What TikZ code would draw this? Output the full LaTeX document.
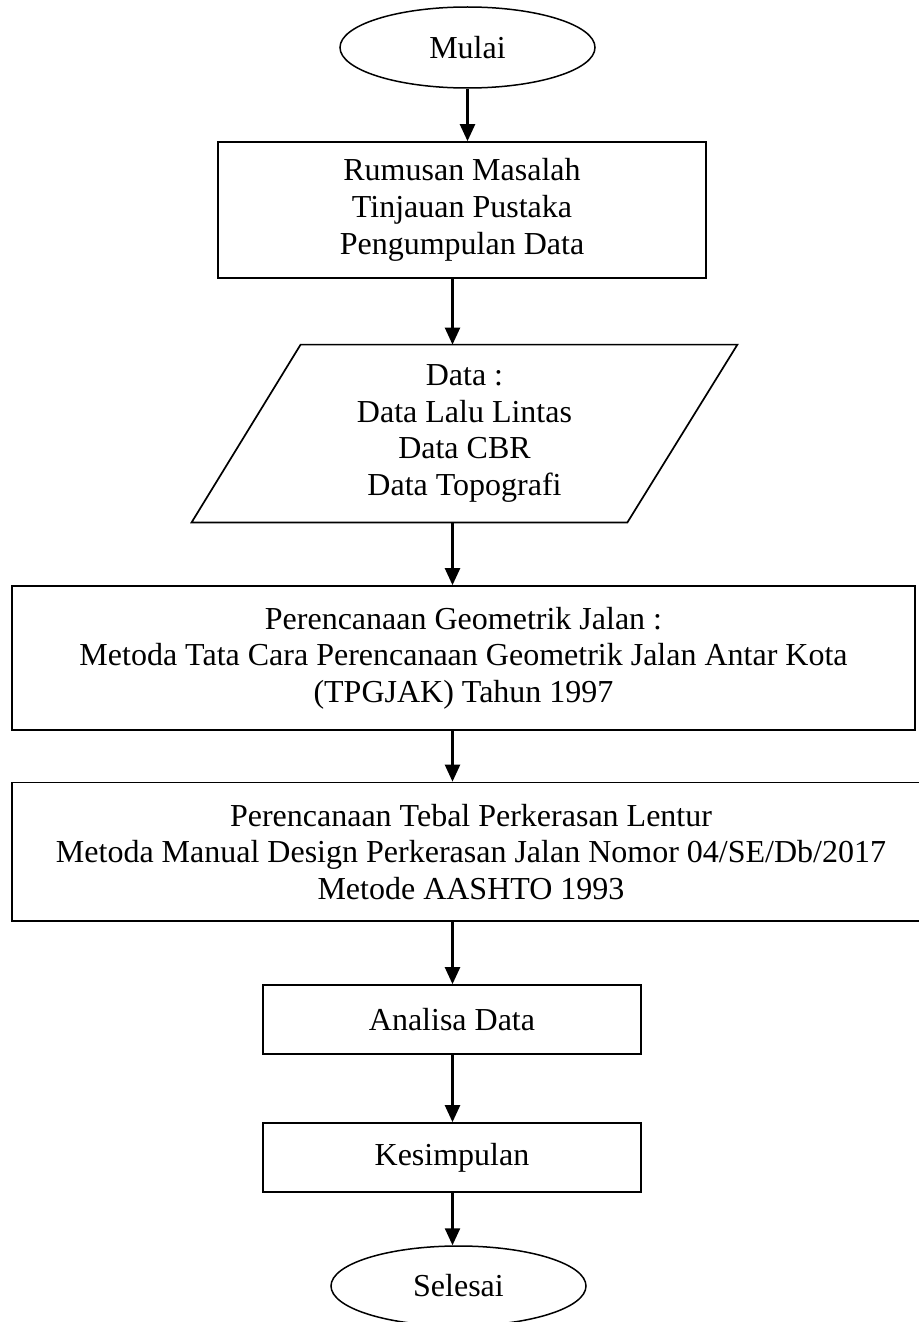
\documentclass[tikz,border=0pt]{standalone}
\usepackage{fontspec}
\setmainfont{Liberation Serif}
\usetikzlibrary{shapes.geometric,arrows.meta,calc}
\begin{document}
\begin{tikzpicture}[x=0.5pt,y=-0.5pt,
  every node/.style={font=\fontsize{16}{18.35}\selectfont, inner sep=0pt, align=center},
  terminal/.style={ellipse, draw, line width=0.75pt, minimum width=127.5pt, minimum height=40.5pt},
  procbox/.style={rectangle, draw, line width=0.85pt},
  arr/.style={line width=1.2pt, -{Triangle[width=7.5pt,length=8.5pt]}}]
\useasboundingbox (0,0) rectangle (919,1322);
\coordinate (axis) at (452.5,0);
\node[terminal] (mulai) at (467.5,47.5) {Mulai};
\node[procbox, minimum width=244pt, minimum height=68pt] (box1) at (462,210)
  {Rumusan Masalah\\Tinjauan Pustaka\\Pengumpulan Data};
\node[minimum width=272.5pt, minimum height=88.5pt] (data) at (464.5,433.5)
  {Data :\\Data Lalu Lintas\\Data CBR\\Data Topografi};
\draw[line width=0.85pt] ($(data.north west)+(109,0)$) -- (data.north east)
  -- ($(data.south east)+(-110,0)$) -- (data.south west) -- cycle;
\node[procbox, minimum width=451.5pt, minimum height=72pt] (box3) at (463.5,658)
  {Perencanaan Geometrik Jalan :\\Metoda Tata Cara Perencanaan Geometrik Jalan Antar Kota\\(TPGJAK) Tahun 1997};
\node[procbox, minimum width=459pt, minimum height=69.25pt] (box4) at (471,851.75)
  {Perencanaan Tebal Perkerasan Lentur\\Metoda Manual Design Perkerasan Jalan Nomor 04/SE/Db/2017\\Metode AASHTO 1993};
\node[procbox, minimum width=189pt, minimum height=34.5pt] (analisa) at (452,1019.5) {Analisa Data};
\node[procbox, minimum width=189pt, minimum height=34.5pt] (kes) at (452,1157.5) {Kesimpulan};
\node[terminal, minimum height=40pt] (selesai) at (458.5,1286) {Selesai};
\draw[arr] (mulai.south) -- (box1.north -| mulai.south);
\draw[arr] (box1.south -| axis) -- (data.north -| axis);
\draw[arr] (data.south -| axis) -- (box3.north -| axis);
\draw[arr] (box3.south -| axis) -- (box4.north -| axis);
\draw[arr] (box4.south -| axis) -- (analisa.north -| axis);
\draw[arr] (analisa.south -| axis) -- (kes.north -| axis);
\draw[arr] (kes.south -| axis) -- (selesai.north -| axis);
\end{tikzpicture}
\end{document}
